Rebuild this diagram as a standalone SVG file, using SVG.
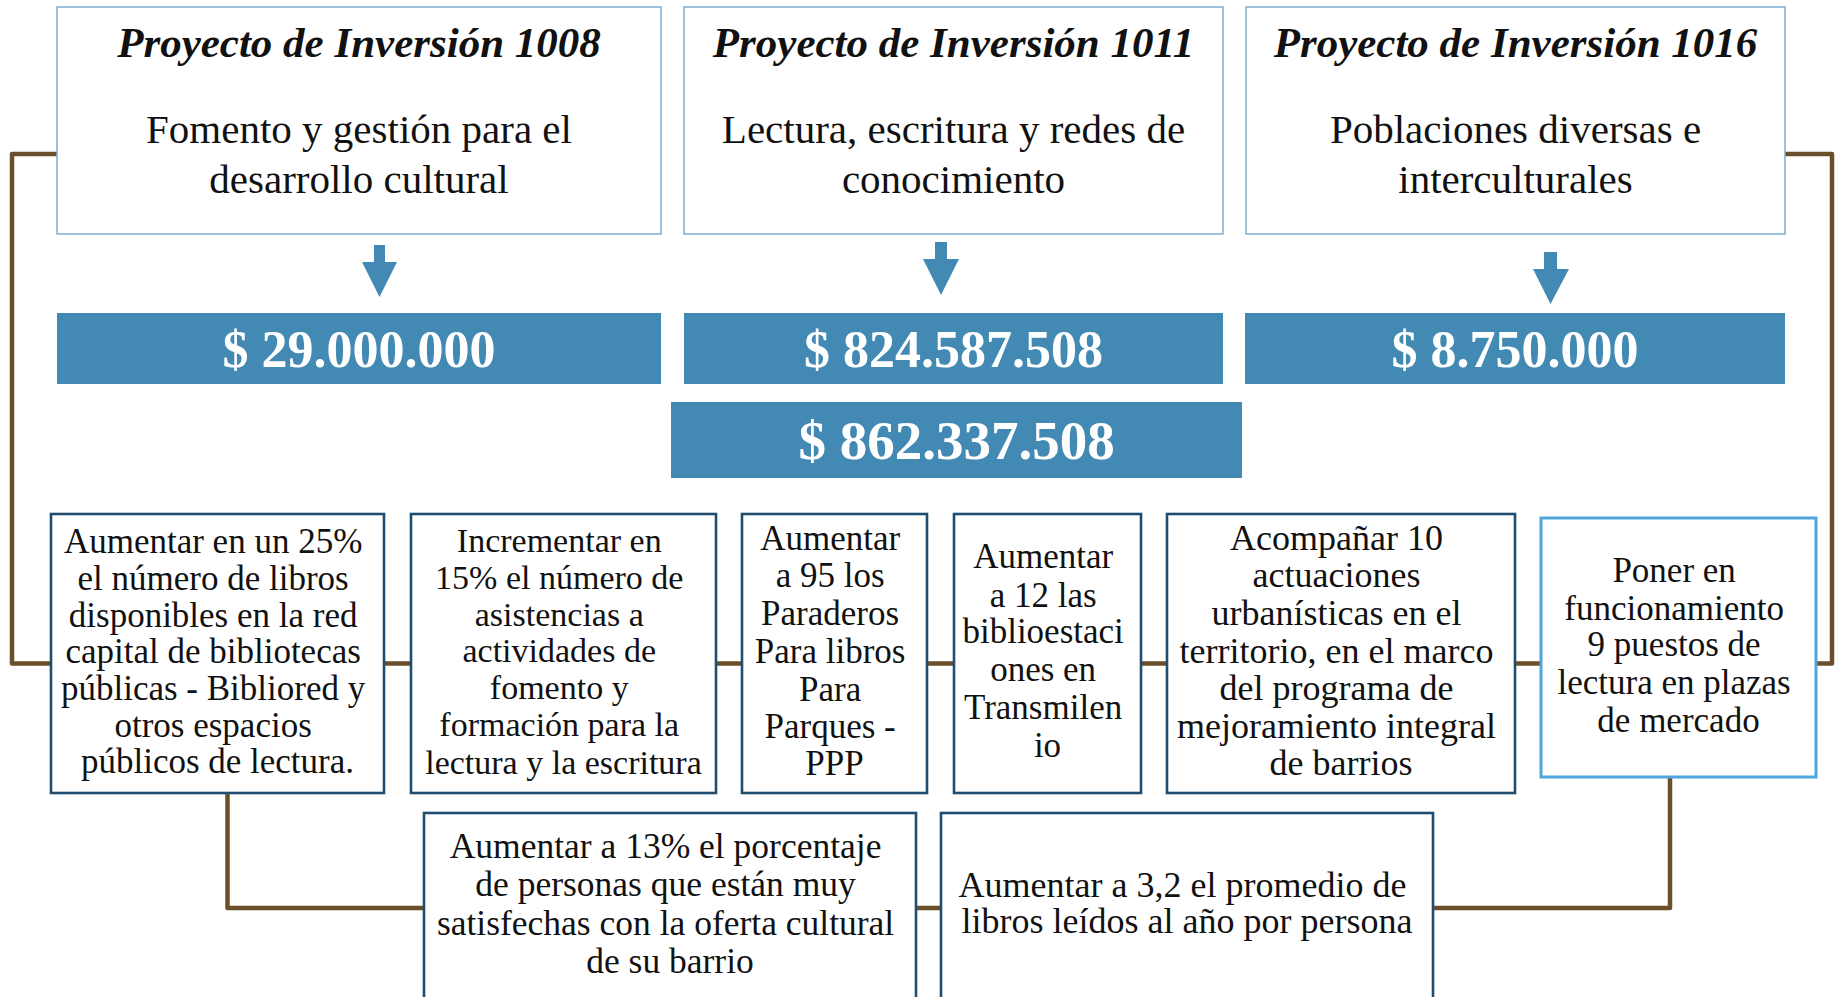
<svg xmlns="http://www.w3.org/2000/svg" width="1839" height="997" viewBox="0 0 1839 997">
<style>
.proj{fill:#fff;stroke:#7badd0;stroke-width:1.5}
.bar{fill:#428ab4}
.arr{fill:#428ab4}
.goal{fill:#fff;stroke:#1f4e70;stroke-width:2.6}
.goal2{fill:#fff;stroke:#4ea6dc;stroke-width:3}
.con{fill:none;stroke:#6b4f2b;stroke-width:4.5;stroke-linejoin:round;stroke-linecap:square}
.t{font-family:"Liberation Serif","Times New Roman",serif;fill:#111;text-anchor:middle}
.title{font-size:43px;font-style:italic;font-weight:bold}
.sub{font-size:41px}
.amt{font-family:"Liberation Serif","Times New Roman",serif;fill:#fff;font-weight:bold;text-anchor:middle;font-size:52px}
.g{font-size:35px}
.g4{font-size:34px}
.g6{font-size:36px}
.g5{font-size:35.5px}
</style>
<g id="connectors">
<path class="con" d="M56,154 H12 V663.5 H51"/>
<path class="con" d="M1785,154 H1832 V663.5 H1816"/>
<path class="con" d="M384,663.5 H411 M716,663.5 H742 M927,663.5 H954 M1141,663.5 H1167 M1515,663.5 H1541"/>
<path class="con" d="M227.5,793 V908 H424"/>
<path class="con" d="M916,908 H941"/>
<path class="con" d="M1433,908 H1670 V777"/>
</g>
<g id="p1008">
<rect class="proj" x="57" y="7" width="604" height="227"/>
<text class="t title" x="359" y="57">Proyecto de Inversión 1008</text>
<text class="t sub" x="359" y="143">Fomento y gestión para el</text>
<text class="t sub" x="359" y="193">desarrollo cultural</text>
</g>
<g id="p1011">
<rect class="proj" x="684" y="7" width="539" height="227"/>
<text class="t title" x="953.5" y="57">Proyecto de Inversión 1011</text>
<text class="t sub" x="953.5" y="143">Lectura, escritura y redes de</text>
<text class="t sub" x="953.5" y="193">conocimiento</text>
</g>
<g id="p1016">
<rect class="proj" x="1246" y="7" width="539" height="227"/>
<text class="t title" x="1515.5" y="57">Proyecto de Inversión 1016</text>
<text class="t sub" x="1515.5" y="143">Poblaciones diversas e</text>
<text class="t sub" x="1515.5" y="193">interculturales</text>
</g>
<g id="arrows">
<path class="arr" d="M374,245 H385 V262 H397 L379.5,297 L362,262 H374 Z"/>
<path class="arr" d="M935,242 H947 V259 H959 L941,295 L923,259 H935 Z"/>
<path class="arr" d="M1544,252 H1557 V269 H1569 L1550.5,304 L1533,269 H1544 Z"/>
</g>
<g id="amt1008">
<rect class="bar" x="57" y="313" width="604" height="71"/>
<text class="amt" x="359" y="367">$ 29.000.000</text>
</g>
<g id="amt1011">
<rect class="bar" x="684" y="313" width="539" height="71"/>
<text class="amt" x="953.5" y="367">$ 824.587.508</text>
</g>
<g id="amt1016">
<rect class="bar" x="1245" y="313" width="540" height="71"/>
<text class="amt" x="1515" y="367">$ 8.750.000</text>
</g>
<g id="total">
<rect class="bar" x="671" y="402" width="571" height="76"/>
<text class="amt" x="956.5" y="459" style="font-size:55px">$ 862.337.508</text>
</g>
<g id="goalA">
<rect class="goal" x="51" y="514" width="333" height="279"/>
<text class="t g">
<tspan x="217.5" y="553">Aumentar en un 25%</tspan>
<tspan x="217.5" y="590">el número de libros</tspan>
<tspan x="217.5" y="627">disponibles en la red</tspan>
<tspan x="217.5" y="663">capital de bibliotecas</tspan>
<tspan x="217.5" y="700">públicas - Bibliored y</tspan>
<tspan x="217.5" y="737">otros espacios</tspan>
<tspan x="217.5" y="773">públicos de lectura.</tspan>
</text>
</g>
<g id="goalB">
<rect class="goal" x="411" y="514" width="305" height="279"/>
<text class="t g4">
<tspan x="563.5" y="552">Incrementar en</tspan>
<tspan x="563.5" y="589">15% el número de</tspan>
<tspan x="563.5" y="626">asistencias a</tspan>
<tspan x="563.5" y="662">actividades de</tspan>
<tspan x="563.5" y="699">fomento y</tspan>
<tspan x="563.5" y="736">formación para la</tspan>
<tspan x="563.5" y="774">lectura y la escritura</tspan>
</text>
</g>
<g id="goalC">
<rect class="goal" x="742" y="514" width="185" height="279"/>
<text class="t g">
<tspan x="834.5" y="550">Aumentar</tspan>
<tspan x="834.5" y="587">a 95 los</tspan>
<tspan x="834.5" y="625">Paraderos</tspan>
<tspan x="834.5" y="663">Para libros</tspan>
<tspan x="834.5" y="701">Para</tspan>
<tspan x="834.5" y="738">Parques -</tspan>
<tspan x="834.5" y="775">PPP</tspan>
</text>
</g>
<g id="goalD">
<rect class="goal" x="954" y="514" width="187" height="279"/>
<text class="t g">
<tspan x="1047.5" y="568">Aumentar</tspan>
<tspan x="1047.5" y="607">a 12 las</tspan>
<tspan x="1047.5" y="643">biblioestaci</tspan>
<tspan x="1047.5" y="681">ones en</tspan>
<tspan x="1047.5" y="719">Transmilen</tspan>
<tspan x="1047.5" y="757">io</tspan>
</text>
</g>
<g id="goalE">
<rect class="goal" x="1167" y="514" width="348" height="279"/>
<text class="t g6">
<tspan x="1341" y="550">Acompañar 10</tspan>
<tspan x="1341" y="587">actuaciones</tspan>
<tspan x="1341" y="625">urbanísticas en el</tspan>
<tspan x="1341" y="663">territorio, en el marco</tspan>
<tspan x="1341" y="700">del programa de</tspan>
<tspan x="1341" y="738">mejoramiento integral</tspan>
<tspan x="1341" y="775">de barrios</tspan>
</text>
</g>
<g id="goalF">
<rect class="goal2" x="1541" y="518" width="275" height="259"/>
<text class="t g">
<tspan x="1678.5" y="582">Poner en</tspan>
<tspan x="1678.5" y="620">funcionamiento</tspan>
<tspan x="1678.5" y="656">9 puestos de</tspan>
<tspan x="1678.5" y="694">lectura en plazas</tspan>
<tspan x="1678.5" y="732">de mercado</tspan>
</text>
</g>
<g id="goalG">
<rect class="goal" x="424" y="813" width="492" height="200"/>
<text class="t g5">
<tspan x="670" y="858">Aumentar a 13% el porcentaje</tspan>
<tspan x="670" y="896">de personas que están muy</tspan>
<tspan x="670" y="935">satisfechas con la oferta cultural</tspan>
<tspan x="670" y="973">de su barrio</tspan>
</text>
</g>
<g id="goalH">
<rect class="goal" x="941" y="813" width="492" height="200"/>
<text class="t g6">
<tspan x="1187" y="897">Aumentar a 3,2 el promedio de</tspan>
<tspan x="1187" y="933">libros leídos al año por persona</tspan>
</text>
</g>
</svg>
